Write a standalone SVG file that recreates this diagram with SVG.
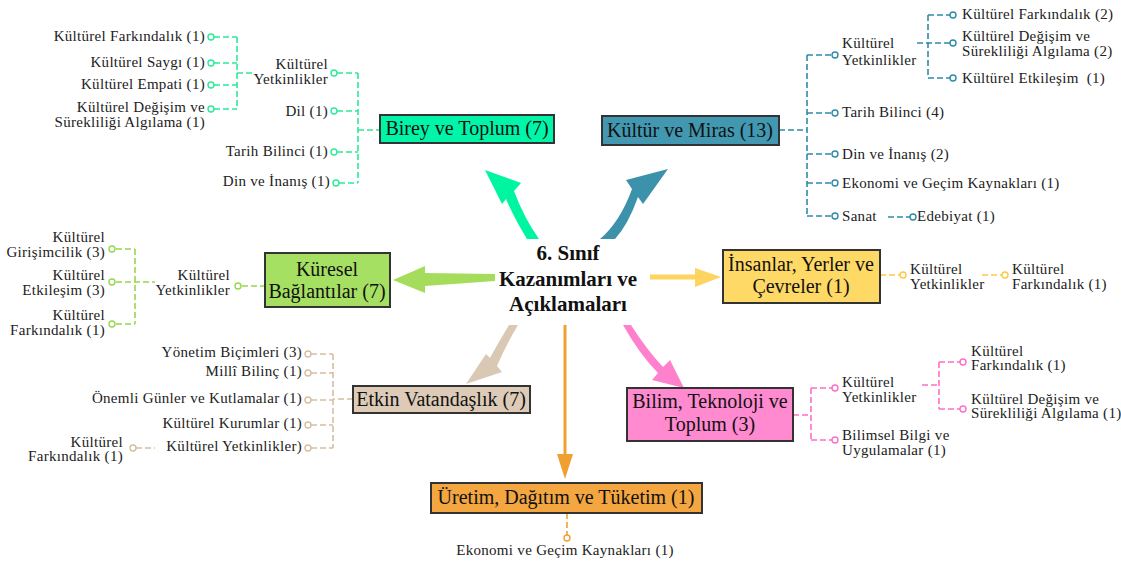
<svg xmlns="http://www.w3.org/2000/svg" width="1121" height="562" viewBox="0 0 1121 562">
<style>
.box{stroke:#333;stroke-width:2}
.bt{font-family:"Liberation Serif",serif;font-size:20px;fill:#111;text-anchor:middle}
.ct{font-family:"Liberation Serif",serif;font-size:21px;font-weight:bold;fill:#111;text-anchor:middle}
.lf{font-family:"Liberation Serif",serif;font-size:15px;letter-spacing:0.3px;fill:#222}
.e{text-anchor:end}
.m{text-anchor:middle}
.d{fill:none;stroke-width:1.6;stroke-dasharray:6 3}
.c{fill:#fff;stroke-width:1.4}
.g1{stroke:#2AEB96}
.g2{stroke:#2E8BA8}
.g3{stroke:#96D84C}
.g4{stroke:#FFC844}
.g5{stroke:#D6BEA2}
.g6{stroke:#FF6EC7}
.g7{stroke:#F0A030}
</style>
<rect width="1121" height="562" fill="#fff"/>

<g id="connectors">
  <!-- main arrows -->
  <path d="M527,239 Q514,218 506,199 L502,204 L485,170 L521,183 L514,191 Q524,218 539,239 Z" fill="#00F5A0"/>
  <path d="M600,239 Q620,222 632,189 L626,180 L668,169 L643,204 L638,197 Q628,225 615,239 Z" fill="#3C92AB"/>
  <path d="M495,274 L425,273 L425,266 L393,280 L425,293 L425,286 L495,281 Z" fill="#A5DC5C"/>
  <path d="M650,274.5 L695,274.5 L695,268 L721,277 L695,287 L695,279.5 L650,279.5 Z" fill="#FFD35F"/>
  <path d="M509,325 Q497,345 490,358 L486,354 L466,384 L502,372 L497,366 Q506,345 518,325 Z" fill="#D9C8B3"/>
  <path d="M563.5,325 H566.5 V454 H573 L565,479 L557,454 H563.5 Z" fill="#F0A030"/>
  <path d="M623,325 Q640,355 658,373 L652,380 L684,388 L670,360 L663,367 Q647,350 631,325 Z" fill="#FF80CC"/>

  <!-- Birey ve Toplum -->
  <path class="d g1" d="M214,37 H237 M214,63 H237 M214,85 H237 M214,109 H237 M237,37 V109 M237,73 H252 M337,73 H358 M337,111 H358 M337,152 H358 M339,183 H358 M358,73 V183 M358,130 H380"/>
  <!-- Kültür ve Miras -->
  <path class="d g2" d="M779,130 H807 M807,55 V216 M807,55 H832 M807,113 H832 M807,154 H832 M807,183 H832 M807,216 H832 M917,43 H950 M928,15 V78 M928,15 H950 M928,78 H950 M888,217 H910"/>
  <!-- Küresel Bağlantılar -->
  <path class="d g3" d="M242,286 H265 M116,282 H155 M135,249 V324 M116,249 H135 M116,324 H135"/>
  <!-- İnsanlar -->
  <path class="d g4" d="M880,275 H900 M982,275 H1002"/>
  <!-- Etkin Vatandaşlık -->
  <path class="d g5" d="M353,399 H333 M333,354 V448 M311,354 H333 M311,373 H333 M311,400 H333 M311,425 H333 M311,448 H333 M136,448 H155"/>
  <!-- Bilim -->
  <path class="d g6" d="M793,415 H811 M811,388 V440 M811,388 H832 M811,440 H832 M922,385 H939 M939,362 V409 M939,362 H960 M939,409 H960"/>
  <!-- Üretim -->
  <path class="d g7" d="M567,513 V535"/>

  <!-- end circles -->
  <g class="c g1">
    <circle cx="211" cy="37" r="3"/><circle cx="211" cy="63" r="3"/><circle cx="211" cy="85" r="3"/><circle cx="211" cy="109" r="3"/>
    <circle cx="334" cy="73" r="3"/><circle cx="334" cy="111" r="3"/><circle cx="334" cy="152" r="3"/><circle cx="336" cy="183" r="3"/>
  </g>
  <g class="c g2">
    <circle cx="835" cy="55" r="3"/><circle cx="835" cy="113" r="3"/><circle cx="835" cy="154" r="3"/><circle cx="835" cy="183" r="3"/><circle cx="835" cy="216" r="3"/>
    <circle cx="953" cy="15" r="3"/><circle cx="953" cy="43" r="3"/><circle cx="953" cy="78" r="3"/><circle cx="913" cy="217" r="3"/>
  </g>
  <g class="c g3">
    <circle cx="238" cy="286" r="3"/><circle cx="112" cy="249" r="3"/><circle cx="112" cy="282" r="3"/><circle cx="112" cy="324" r="3"/>
  </g>
  <g class="c g4">
    <circle cx="903" cy="275" r="3"/><circle cx="1005" cy="275" r="3"/>
  </g>
  <g class="c g5">
    <circle cx="308" cy="354" r="3"/><circle cx="308" cy="373" r="3"/><circle cx="308" cy="400" r="3"/><circle cx="308" cy="425" r="3"/><circle cx="308" cy="448" r="3"/><circle cx="133" cy="448" r="3"/>
  </g>
  <g class="c g6">
    <circle cx="835" cy="388" r="3"/><circle cx="835" cy="440" r="3"/><circle cx="963" cy="362" r="3"/><circle cx="963" cy="409" r="3"/>
  </g>
  <g class="c g7">
    <circle cx="567" cy="538" r="3"/>
  </g>
</g>

<g id="center">
  <text class="ct" x="568" y="260">6. Sınıf</text>
  <text class="ct" x="568" y="286">Kazanımları ve</text>
  <text class="ct" x="568" y="311">Açıklamaları</text>
</g>

<g id="birey">
  <rect class="box" x="380" y="115" width="174" height="28" fill="#00F5A8"/>
  <text class="bt" x="467" y="135">Birey ve Toplum (7)</text>
</g>
<g id="kultur">
  <rect class="box" x="602" y="116" width="177" height="29" fill="#4198B0"/>
  <text class="bt" x="690" y="137">Kültür ve Miras (13)</text>
</g>
<g id="kuresel">
  <rect class="box" x="265" y="253" width="125" height="54" fill="#A6E063"/>
  <text class="bt" x="327" y="276">Küresel</text>
  <text class="bt" x="327" y="298">Bağlantılar (7)</text>
</g>
<g id="insanlar">
  <rect class="box" x="723" y="250" width="157" height="53" fill="#FFD966"/>
  <text class="bt" x="801" y="271">İnsanlar, Yerler ve</text>
  <text class="bt" x="801" y="293">Çevreler (1)</text>
</g>
<g id="etkin">
  <rect class="box" x="353" y="386" width="177" height="27" fill="#DDCBB7"/>
  <text class="bt" x="441" y="406">Etkin Vatandaşlık (7)</text>
</g>
<g id="bilim">
  <rect class="box" x="627" y="388" width="166" height="53" fill="#FF8AD0"/>
  <text class="bt" x="710" y="408">Bilim, Teknoloji ve</text>
  <text class="bt" x="710" y="431">Toplum (3)</text>
</g>
<g id="uretim">
  <rect class="box" x="431" y="483" width="271" height="30" fill="#F4A640"/>
  <text class="bt" x="566" y="504">Üretim, Dağıtım ve Tüketim (1)</text>
</g>

<g id="birey-leaves">
  <g id="b-farkindalik"><text class="lf e" x="205" y="41">Kültürel Farkındalık (1)</text></g>
  <g id="b-saygi"><text class="lf e" x="205" y="67">Kültürel Saygı (1)</text></g>
  <g id="b-empati"><text class="lf e" x="205" y="89">Kültürel Empati (1)</text></g>
  <g id="b-degisim"><text class="lf e" x="205" y="112">Kültürel Değişim ve</text><text class="lf e" x="205" y="127">Sürekliliği Algılama (1)</text></g>
  <g id="b-yetkinlik"><text class="lf e" x="328" y="69">Kültürel</text><text class="lf e" x="328" y="84">Yetkinlikler</text></g>
  <g id="b-dil"><text class="lf e" x="328" y="116">Dil (1)</text></g>
  <g id="b-tarih"><text class="lf e" x="328" y="156">Tarih Bilinci (1)</text></g>
  <g id="b-din"><text class="lf e" x="330" y="186">Din ve İnanış (1)</text></g>
</g>

<g id="kultur-leaves">
  <g id="k-yetkinlik"><text class="lf" x="842" y="48">Kültürel</text><text class="lf" x="842" y="65">Yetkinlikler</text></g>
  <g id="k-farkindalik"><text class="lf" x="962" y="19">Kültürel Farkındalık (2)</text></g>
  <g id="k-degisim"><text class="lf" x="962" y="41">Kültürel Değişim ve</text><text class="lf" x="962" y="56">Sürekliliği Algılama (2)</text></g>
  <g id="k-etkilesim"><text class="lf" x="962" y="83" xml:space="preserve">Kültürel Etkileşim  (1)</text></g>
  <g id="k-tarih"><text class="lf" x="842" y="117">Tarih Bilinci (4)</text></g>
  <g id="k-din"><text class="lf" x="842" y="159">Din ve İnanış (2)</text></g>
  <g id="k-ekonomi"><text class="lf" x="842" y="188">Ekonomi ve Geçim Kaynakları (1)</text></g>
  <g id="k-sanat"><text class="lf" x="842" y="221">Sanat</text></g>
  <g id="k-edebiyat"><text class="lf" x="917" y="221">Edebiyat (1)</text></g>
</g>

<g id="kuresel-leaves">
  <g id="r-girisim"><text class="lf e" x="105" y="242">Kültürel</text><text class="lf e" x="105" y="257">Girişimcilik (3)</text></g>
  <g id="r-etkilesim"><text class="lf e" x="105" y="280">Kültürel</text><text class="lf e" x="105" y="295">Etkileşim (3)</text></g>
  <g id="r-farkindalik"><text class="lf e" x="105" y="320">Kültürel</text><text class="lf e" x="105" y="335">Farkındalık (1)</text></g>
  <g id="r-yetkinlik"><text class="lf e" x="230" y="280">Kültürel</text><text class="lf e" x="230" y="295">Yetkinlikler</text></g>
</g>

<g id="insanlar-leaves">
  <g id="i-yetkinlik"><text class="lf" x="910" y="274">Kültürel</text><text class="lf" x="910" y="289">Yetkinlikler</text></g>
  <g id="i-farkindalik"><text class="lf" x="1012" y="274">Kültürel</text><text class="lf" x="1012" y="289">Farkındalık (1)</text></g>
</g>

<g id="etkin-leaves">
  <g id="e-yonetim"><text class="lf e" x="302" y="357">Yönetim Biçimleri (3)</text></g>
  <g id="e-milli"><text class="lf e" x="302" y="376">Millî Bilinç (1)</text></g>
  <g id="e-onemli"><text class="lf e" x="302" y="403">Önemli Günler ve Kutlamalar (1)</text></g>
  <g id="e-kurumlar"><text class="lf e" x="302" y="428">Kültürel Kurumlar (1)</text></g>
  <g id="e-yetkinlik"><text class="lf e" x="302" y="451">Kültürel Yetkinlikler)</text></g>
  <g id="e-farkindalik"><text class="lf e" x="123" y="447">Kültürel</text><text class="lf e" x="123" y="461">Farkındalık (1)</text></g>
</g>

<g id="bilim-leaves">
  <g id="t-yetkinlik"><text class="lf" x="842" y="387">Kültürel</text><text class="lf" x="842" y="402">Yetkinlikler</text></g>
  <g id="t-bilimsel"><text class="lf" x="842" y="440">Bilimsel Bilgi ve</text><text class="lf" x="842" y="455">Uygulamalar (1)</text></g>
  <g id="t-farkindalik"><text class="lf" x="971" y="356">Kültürel</text><text class="lf" x="971" y="370">Farkındalık (1)</text></g>
  <g id="t-degisim"><text class="lf" x="971" y="404">Kültürel Değişim ve</text><text class="lf" x="971" y="418">Sürekliliği Algılama (1)</text></g>
</g>

<g id="uretim-leaves">
  <g id="u-ekonomi"><text class="lf m" x="565" y="555">Ekonomi ve Geçim Kaynakları (1)</text></g>
</g>
</svg>
